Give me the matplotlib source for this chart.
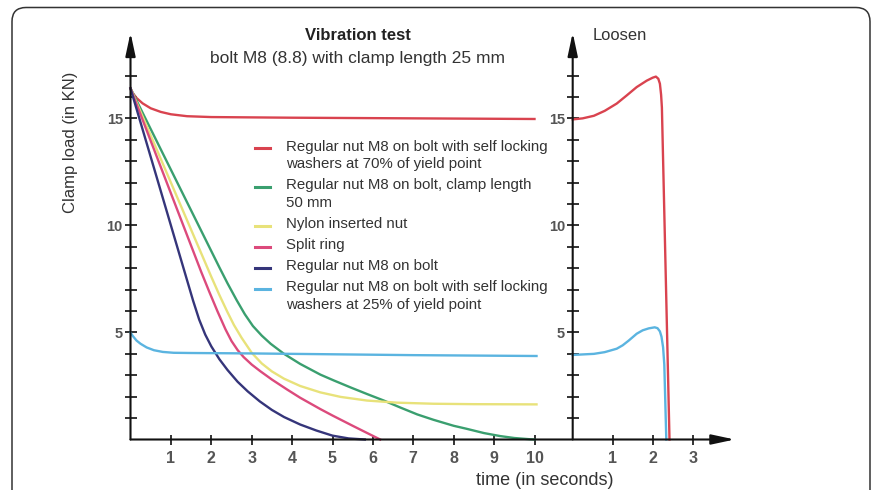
import matplotlib
matplotlib.use('Agg')
import matplotlib.pyplot as plt
from matplotlib.patches import FancyBboxPatch
from matplotlib.lines import Line2D
from matplotlib.transforms import IdentityTransform

# Vibration test, bolt M8 (8.8), clamp length 25 mm: time in s, clamp load in kN
t_washer70 = [0, 0.05, 0.15, 0.3, 0.5, 0.75, 1.0, 1.4, 2.0, 4.0, 7.0, 10.0]
y_washer70 = [16.4, 16.2, 15.95, 15.7, 15.47, 15.3, 15.19, 15.1, 15.06, 15.03, 15.0, 14.97]

t_clamp50 = [0, 1.0, 2.2, 2.4, 2.63, 2.83, 3.03, 3.25, 3.47, 3.8, 4.2, 4.7, 5.03,
             5.45, 5.86, 6.27, 6.67, 7.1, 7.5, 8.0, 8.32, 8.75, 9.15, 9.5, 9.9, 10.0]
y_clamp50 = [16.4, 12.6, 8.04, 7.3, 6.5, 5.85, 5.3, 4.85, 4.47, 4.0, 3.53, 3.03, 2.76,
             2.43, 2.12, 1.82, 1.5, 1.17, 0.92, 0.64, 0.5, 0.3, 0.16, 0.07, 0.01, 0.0]

t_nylon = [0, 1.0, 1.8, 2.0, 2.2, 2.4, 2.56, 2.75, 3.0, 3.25, 3.5, 3.8, 4.2, 4.7,
           5.2, 5.85, 6.6, 7.5, 8.5, 10.05]
y_nylon = [16.4, 12.0, 8.48, 7.6, 6.75, 5.95, 5.35, 4.75, 4.05, 3.55, 3.18, 2.84, 2.5,
           2.2, 1.99, 1.82, 1.72, 1.67, 1.65, 1.64]

t_split = [0, 1.0, 1.75, 1.95, 2.15, 2.35, 2.5, 2.65, 2.8, 3.0, 3.22, 3.5, 3.88, 4.2,
           4.7, 5.0, 5.5, 5.85, 6.18]
y_split = [16.4, 11.5, 7.83, 6.9, 6.0, 5.15, 4.6, 4.18, 3.85, 3.5, 3.18, 2.8, 2.33, 1.95,
           1.42, 1.12, 0.64, 0.31, 0.0]

t_regular = [0, 1.0, 1.55, 1.7, 1.85, 2.0, 2.2, 2.4, 2.65, 2.9, 3.2, 3.5, 3.8, 4.2,
             4.6, 5.0, 5.4, 5.8]
y_regular = [16.4, 10.0, 6.48, 5.6, 4.9, 4.35, 3.75, 3.25, 2.7, 2.25, 1.78, 1.38, 1.05,
             0.7, 0.42, 0.18, 0.05, 0.0]

t_washer25 = [0, 0.05, 0.15, 0.25, 0.4, 0.58, 0.8, 1.07, 1.5, 3.0, 5.0, 7.0, 10.05]
y_washer25 = [5.0, 4.85, 4.62, 4.47, 4.3, 4.17, 4.09, 4.05, 4.04, 4.02, 3.98, 3.94, 3.9]

# Loosening after the test
t_loosen70 = [0, 0.25, 0.53, 0.8, 1.1, 1.35, 1.6, 1.85, 2.0, 2.08, 2.14, 2.18, 2.21,
              2.23, 2.42]
y_loosen70 = [14.95, 15.0, 15.12, 15.35, 15.69, 16.07, 16.46, 16.76, 16.9, 16.95, 16.85,
              16.62, 16.1, 15.5, 0.0]
t_loosen25 = [0, 0.53, 0.8, 1.1, 1.25, 1.4, 1.6, 1.75, 1.9, 2.05, 2.12, 2.18, 2.22,
              2.26, 2.29, 2.34]
y_loosen25 = [3.95, 4.0, 4.08, 4.24, 4.4, 4.62, 4.94, 5.1, 5.19, 5.24, 5.2, 5.05, 4.8,
              4.3, 3.5, 0.0]

labels = [
    ["Regular nut M8 on bolt with self locking", "washers at 70% of yield point"],
    ["Regular nut M8 on bolt, clamp length", "50 mm"],
    ["Nylon inserted nut"],
    ["Split ring"],
    ["Regular nut M8 on bolt"],
    ["Regular nut M8 on bolt with self locking", "washers at 25% of yield point"],
]
colors = ['#d9434f', '#3a9f6f', '#e8e27a', '#dc4a7c', '#35357a', '#5bb4e0']

plt.rcParams['font.family'] = ['Liberation Sans', 'DejaVu Sans']

W, H = 872, 490
fig = plt.figure(figsize=(W / 100, H / 100), dpi=100)


def fx(px):
    return px / W


def fy(py):
    return 1 - py / H


X0, Y0 = 130.5, 439.5
SX, SY = 40.4, 21.41
YMAX = 19.0
ax1 = fig.add_axes([fx(X0), fy(Y0), 10.5 * SX / W, YMAX * SY / H])
ax2 = fig.add_axes([fx(572.7), fy(Y0), 4.05 * 40 / W, YMAX * SY / H])
ax1.set_xlim(0, 10.5)
ax2.set_xlim(0, 4.05)

series = [(t_washer70, y_washer70), (t_clamp50, y_clamp50), (t_nylon, y_nylon),
          (t_split, y_split), (t_regular, y_regular), (t_washer25, y_washer25)]
for (t, y), c in zip(series, colors):
    ax1.plot(t, y, color=c, lw=1.7, clip_on=False, solid_joinstyle='round')
ax2.plot(t_loosen70, y_loosen70, color=colors[0], lw=1.7, clip_on=False,
         solid_joinstyle='round')
ax2.plot(t_loosen25, y_loosen25, color=colors[5], lw=1.7, clip_on=False,
         solid_joinstyle='round')

arrow = dict(arrowstyle='-|>,head_length=1.4,head_width=0.3', color='#111', lw=1.5,
             shrinkA=0, shrinkB=0)
ax1.set_xticks(range(1, 11))
ax2.set_xticks([1, 2, 3])
for ax in (ax1, ax2):
    ax.set_ylim(0, YMAX)
    for s in ax.spines.values():
        s.set_visible(False)
    ax.patch.set_visible(False)
    ax.annotate('', xy=(0, 1), xytext=(0, 0), xycoords='axes fraction',
                arrowprops=arrow, annotation_clip=False)
    ax.set_yticks([5, 10, 15])
    ax.set_yticks([v for v in range(1, 18) if v % 5], minor=True)
    ax.tick_params(which='both', direction='inout', color='#222', width=1.3)
    ax.tick_params(axis='y', which='both', length=8, pad=1.5, labelsize=10.5,
                   labelcolor='#555')
    ax.tick_params(axis='x', length=7, pad=5, labelsize=11.5, labelcolor='#555')
    for lbl in ax.get_xticklabels() + ax.get_yticklabels():
        lbl.set_weight('bold')
        lbl.set_stretch('condensed')

# one time axis running under both panels
ax2.annotate('', xy=(1, 0), xycoords='axes fraction', xytext=(0, 0),
             textcoords=ax1.transAxes, arrowprops=arrow, annotation_clip=False)

# legend with the marker on the first line of each entry
row = 146.5
for lines, c in zip(labels, colors):
    fig.add_artist(Line2D([fx(255), fx(270)], [fy(row + 2), fy(row + 2)],
                          transform=fig.transFigure, color=c, lw=2.2))
    for k, txt in enumerate(lines):
        fig.text(fx(285.7), fy(row + k * 17.5), txt, va='center', fontsize=10.8,
                 color='#333')
    row += (len(lines) - 1) * 17.5 + 21.2

fig.text(fx(358), fy(35), 'Vibration test', ha='center', va='center', fontsize=12,
         weight='bold', color='#222')
fig.text(fx(357.5), fy(58.5), 'bolt M8 (8.8) with clamp length 25 mm', ha='center',
         va='center', fontsize=12.5, color='#333')
fig.text(fx(592.7), fy(35.5), 'Loosen', ha='left', va='center', fontsize=11.9,
         color='#333')
fig.text(fx(70), fy(142.5), 'Clamp load (in KN)', rotation=90, ha='center',
         va='center', fontsize=12, color='#333')
fig.text(fx(544.5), fy(480), 'time (in seconds)', ha='center', va='center',
         fontsize=13, color='#333')

frame = FancyBboxPatch((12, -20), 858, 502.5, boxstyle='round,pad=0,rounding_size=14',
                       transform=IdentityTransform(), fill=False, lw=1.1,
                       edgecolor='#333')
fig.add_artist(frame)

fig.savefig('out.png', dpi=100)
